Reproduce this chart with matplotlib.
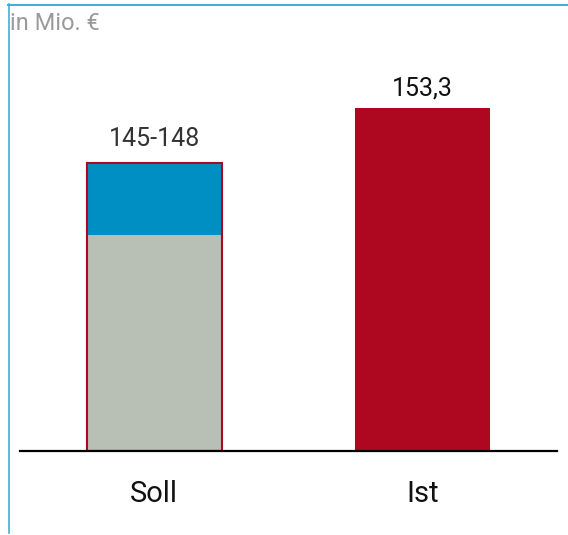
import numpy as np
import matplotlib.pyplot as plt
from matplotlib.lines import Line2D

plt.rcParams['font.family'] = ['Roboto', 'DejaVu Sans']

# categories and values (bar heights as drawn in the chart, not to scale)
categories = ['Soll', 'Ist']
soll_base = 96.6       # grey part
soll_top = 128.9       # top of the blue range part
ist_value = 153.3
value_labels = ['145-148', '153,3']
unit_label = 'in Mio. €'

red = '#ae0720'
blue = '#008fc3'
grey = '#b8c0b5'
frame = '#3fb0dc'

fig = plt.figure(figsize=(5.68, 5.35), dpi=100)
ax = fig.add_axes([20/568, 1-451/535, 537/568, 447/535])

x = np.arange(len(categories))
w = 0.503

# Soll: grey base + blue range, red outline
ax.bar(x[0], soll_base, width=w, color=grey, linewidth=0, zorder=2)
ax.bar(x[0], soll_top - soll_base, bottom=soll_base, width=w, color=blue, linewidth=0, zorder=2)
ax.bar(x[0], soll_top, width=w, facecolor='none', edgecolor=red, linewidth=1.5, zorder=3)
# Ist
ax.bar(x[1], ist_value, width=w, color=red, linewidth=0, zorder=2)

ax.annotate(value_labels[0], (x[0], soll_top), xytext=(0, 12), textcoords='offset points',
            ha='center', va='baseline', fontsize=18, color='#333333')
ax.annotate(value_labels[1], (x[1], ist_value), xytext=(0, 9.5), textcoords='offset points',
            ha='center', va='baseline', fontsize=18, color='#111111')

ax.set_xlim(-0.5, 1.5)
ax.set_ylim(0, 200)
ax.set_xticks(x)
ax.set_xticklabels(categories, fontsize=21, color='#111111')
ax.tick_params(axis='x', length=0, pad=21)
ax.set_yticks([])
for s in ['top', 'right', 'left']:
    ax.spines[s].set_visible(False)
ax.spines['bottom'].set_linewidth(1.6)
ax.spines['bottom'].set_color('black')
ax.spines['bottom'].set_zorder(4)

# light blue frame on left and top
fig.add_artist(Line2D([8.5/568, 8.5/568], [1-4/535, 1-533/535], color=frame, linewidth=1.2))
fig.add_artist(Line2D([8/568, 1.0], [1-4.5/535, 1-4.5/535], color=frame, linewidth=1.5))

fig.text(10/568, 1-30/535, unit_label, fontsize=17, color='#9a9a9a', ha='left', va='baseline')

fig.savefig('out.png', dpi=100)
